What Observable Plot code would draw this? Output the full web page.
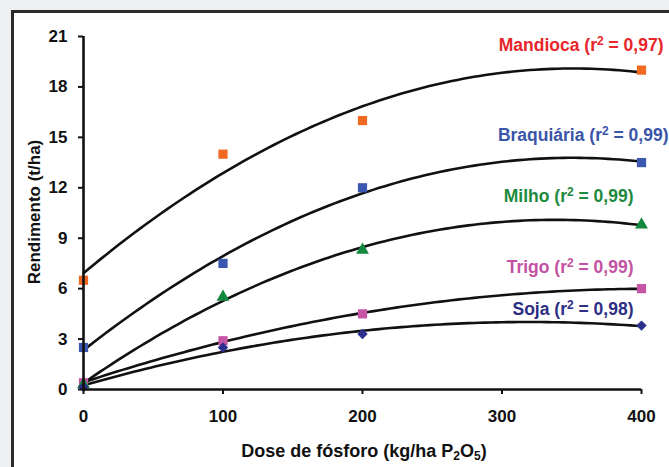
<!DOCTYPE html>
<html><head><meta charset="utf-8">
<script src="https://cdn.jsdelivr.net/npm/d3@7"></script>
<script src="https://cdn.jsdelivr.net/npm/@observablehq/plot@0.6"></script>
<style>
html,body{margin:0;padding:0;background:#eef0f2;width:669px;height:467px;overflow:hidden;font-family:"Liberation Sans",Arial,sans-serif;}
#panel{position:absolute;left:11px;top:10px;width:720px;height:520px;background:#fff;border:3px solid #2b2b2b;box-sizing:border-box;}
#chart{position:absolute;left:0;top:0;}
</style></head>
<body><div id="panel"></div><div id="chart"></div>
<script>
const doses = [0, 100, 200, 400];
const crops = ["Mandioca", "Braquiária", "Milho", "Trigo", "Soja"];
const r2 = ["0,97", "0,99", "0,99", "0,99", "0,98"];
const mandioca = [6.5, 14.0, 16.0, 19.0];
const braquiaria = [2.5, 7.5, 12.0, 13.5];
const milho = [0.3, 5.5, 8.3, 9.8];
const trigo = [0.4, 2.9, 4.5, 6.0];
const soja = [0.15, 2.5, 3.3, 3.8];
const yTicks = [0, 3, 6, 9, 12, 15, 18, 21];
const xTicks = [0, 100, 200, 300, 400];

const seriesValues = [mandioca, braquiaria, milho, trigo, soja];
const markerColors = ["#f26a21", "#3b58b0", "#14883f", "#c655a6", "#2c2f8c"];
const labelColors = ["#e8252b", "#3a55a8", "#1d8a3e", "#c352a3", "#2d2e85"];
const symbols = ["square", "square", "triangle", "square", "diamond2"];
const markerR = [5.2, 5.2, 4.8, 5.2, 4.7];
const labelY = [20.45, 15.1, 11.5, 7.25, 4.75];
const labelDx = [22, 27, -8, -8, -8];

const points = [];
crops.forEach((c, i) => doses.forEach((d, j) => points.push({crop: c, dose: d, y: seriesValues[i][j], i})));

// quadratic least-squares trendline (as in the original spreadsheet chart)
function quadFit(xs, ys) {
  const t = xs.map(x => x / 100);
  let S = [0,0,0,0,0], T = [0,0,0];
  t.forEach((v, k) => { for (let p = 0; p < 5; p++) S[p] += v ** p; for (let p = 0; p < 3; p++) T[p] += ys[k] * v ** p; });
  const A = [[S[0],S[1],S[2],T[0]],[S[1],S[2],S[3],T[1]],[S[2],S[3],S[4],T[2]]];
  for (let c = 0; c < 3; c++) {
    for (let r = c + 1; r < 3; r++) { const f = A[r][c] / A[c][c]; for (let k = c; k < 4; k++) A[r][k] -= f * A[c][k]; }
  }
  const co = [0,0,0];
  for (let r = 2; r >= 0; r--) { let s = A[r][3]; for (let k = r + 1; k < 3; k++) s -= A[r][k] * co[k]; co[r] = s / A[r][r]; }
  return x => co[0] + co[1] * (x / 100) + co[2] * (x / 100) ** 2;
}
const curves = [];
crops.forEach((c, i) => {
  const f = quadFit(doses, seriesValues[i]);
  d3.range(0, 401, 4).forEach(x => curves.push({crop: c, dose: x, y: f(x)}));
});
const labels = crops.map((c, i) => ({text: `${c} (r² = ${r2[i]})`, y: labelY[i], i}));

const FONT = "'Liberation Sans', Arial, sans-serif";
const plot = Plot.plot({
  width: 669, height: 467,
  marginLeft: 83, marginRight: 28, marginTop: 36, marginBottom: 78,
  style: {fontFamily: FONT, background: "transparent", overflow: "visible"},
  x: {domain: [0, 400], ticks: xTicks, label: null},
  y: {domain: [0, 21], ticks: yTicks, label: null},
  r: {type: "identity"},
  symbol: {type: "identity"},
  marks: [
    Plot.line(curves, {x: "dose", y: "y", z: "crop", stroke: "#111", strokeWidth: 2.6}),
    Plot.dot(points, {x: "dose", y: "y", symbol: d => symbols[d.i], fill: d => markerColors[d.i], r: d => markerR[d.i], stroke: "none"}),
    Plot.axisY({ticks: yTicks, tickSize: 5, tickPadding: 11, fontSize: 17, fontWeight: "bold", stroke: "#111", strokeWidth: 2, fill: "#111", label: null}),
    Plot.axisX({ticks: xTicks, tickSize: 5, tickPadding: 15, fontSize: 17, fontWeight: "bold", stroke: "#111", strokeWidth: 2, fill: "#111", label: null}),
    Plot.ruleX([0], {stroke: "#111", strokeWidth: 2.6}),
    Plot.ruleY([0], {stroke: "#111", strokeWidth: 2.6}),
    Plot.text(labels, {x: 400, y: "y", text: "text", textAnchor: "end", fill: d => labelColors[d.i], fontSize: 17.5, fontWeight: "bold"})
  ]
});
document.getElementById("chart").appendChild(plot);

const svg = d3.select(plot);
svg.selectAll("g[aria-label='text'] text").each(function(d, k) {
  const el = d3.select(this);
  const x = +el.attr("x") || 0;
  el.attr("x", x + labelDx[k]);
  // render the superscript 2 as a raised, smaller digit
  const full = el.text();
  const [pre, post] = full.split("²");
  if (post !== undefined) {
    el.text(null);
    el.append("tspan").text(pre);
    el.append("tspan").attr("font-size", 12).attr("dy", -6).text("2");
    el.append("tspan").attr("dy", 6).text(post);
  }
});
svg.append("text").attr("transform", "translate(36,212) rotate(-90)").attr("text-anchor", "middle")
  .attr("dominant-baseline", "middle")
  .style("font", `bold 17px ${FONT}`).attr("fill", "#111").text("Rendimento (t/ha)");
const xl = svg.append("text").attr("x", 364).attr("y", 457).attr("text-anchor", "middle")
  .style("font", `bold 18px ${FONT}`).attr("fill", "#111");
xl.append("tspan").text("Dose de fósforo (kg/ha P");
xl.append("tspan").attr("font-size", 12).attr("dy", 3).text("2");
xl.append("tspan").attr("dy", -3).text("O");
xl.append("tspan").attr("font-size", 12).attr("dy", 3).text("5");
xl.append("tspan").attr("dy", -3).text(")");
</script></body></html>
